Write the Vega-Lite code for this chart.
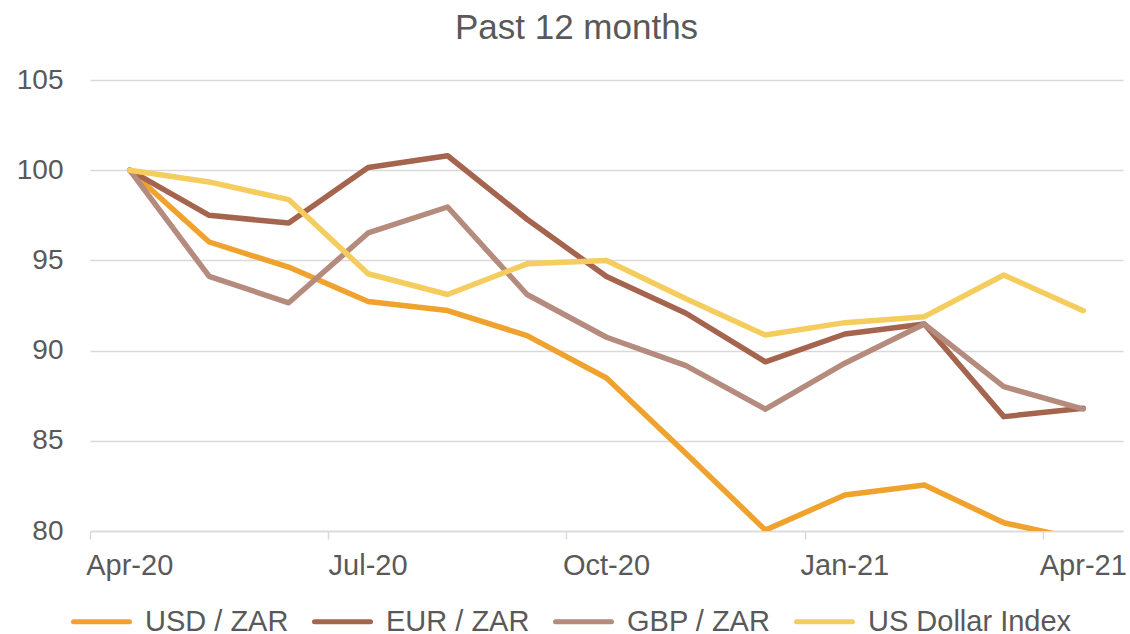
{
  "$schema": "https://vega.github.io/schema/vega-lite/v6.json",
  "width": 1033,
  "height": 451,
  "autosize": "none",
  "padding": {"left": 90, "top": 80, "right": 7, "bottom": 103},
  "background": "white",
  "config": {"view": {"stroke": null}, "font": "Liberation Sans"},
  "title": {
    "text": "Past 12 months",
    "fontSize": 35,
    "font": "Liberation Sans",
    "fontWeight": "normal",
    "color": "#595959",
    "anchor": "middle",
    "frame": "group",
    "dx": -30,
    "offset": 20
  },
  "data": {
    "values": [
      {"month": "Apr-20", "series": "USD / ZAR", "value": 100},
      {"month": "May-20", "series": "USD / ZAR", "value": 96.02},
      {"month": "Jun-20", "series": "USD / ZAR", "value": 94.63},
      {"month": "Jul-20", "series": "USD / ZAR", "value": 92.72},
      {"month": "Aug-20", "series": "USD / ZAR", "value": 92.22},
      {"month": "Sep-20", "series": "USD / ZAR", "value": 90.83},
      {"month": "Oct-20", "series": "USD / ZAR", "value": 88.48},
      {"month": "Nov-20", "series": "USD / ZAR", "value": 84.3},
      {"month": "Dec-20", "series": "USD / ZAR", "value": 80.05},
      {"month": "Jan-21", "series": "USD / ZAR", "value": 82.0},
      {"month": "Feb-21", "series": "USD / ZAR", "value": 82.55},
      {"month": "Mar-21", "series": "USD / ZAR", "value": 80.46},
      {"month": "Apr-21", "series": "USD / ZAR", "value": 79.49},
      {"month": "Apr-20", "series": "EUR / ZAR", "value": 100},
      {"month": "May-20", "series": "EUR / ZAR", "value": 97.5},
      {"month": "Jun-20", "series": "EUR / ZAR", "value": 97.07},
      {"month": "Jul-20", "series": "EUR / ZAR", "value": 100.15},
      {"month": "Aug-20", "series": "EUR / ZAR", "value": 100.8},
      {"month": "Sep-20", "series": "EUR / ZAR", "value": 97.28},
      {"month": "Oct-20", "series": "EUR / ZAR", "value": 94.11},
      {"month": "Nov-20", "series": "EUR / ZAR", "value": 92.07},
      {"month": "Dec-20", "series": "EUR / ZAR", "value": 89.38},
      {"month": "Jan-21", "series": "EUR / ZAR", "value": 90.92},
      {"month": "Feb-21", "series": "EUR / ZAR", "value": 91.47},
      {"month": "Mar-21", "series": "EUR / ZAR", "value": 86.34},
      {"month": "Apr-21", "series": "EUR / ZAR", "value": 86.8},
      {"month": "Apr-20", "series": "GBP / ZAR", "value": 100},
      {"month": "May-20", "series": "GBP / ZAR", "value": 94.11},
      {"month": "Jun-20", "series": "GBP / ZAR", "value": 92.65},
      {"month": "Jul-20", "series": "GBP / ZAR", "value": 96.52},
      {"month": "Aug-20", "series": "GBP / ZAR", "value": 97.96},
      {"month": "Sep-20", "series": "GBP / ZAR", "value": 93.11},
      {"month": "Oct-20", "series": "GBP / ZAR", "value": 90.74},
      {"month": "Nov-20", "series": "GBP / ZAR", "value": 89.17},
      {"month": "Dec-20", "series": "GBP / ZAR", "value": 86.75},
      {"month": "Jan-21", "series": "GBP / ZAR", "value": 89.3},
      {"month": "Feb-21", "series": "GBP / ZAR", "value": 91.47},
      {"month": "Mar-21", "series": "GBP / ZAR", "value": 88.0},
      {"month": "Apr-21", "series": "GBP / ZAR", "value": 86.76},
      {"month": "Apr-20", "series": "US Dollar Index", "value": 100},
      {"month": "May-20", "series": "US Dollar Index", "value": 99.35},
      {"month": "Jun-20", "series": "US Dollar Index", "value": 98.37},
      {"month": "Jul-20", "series": "US Dollar Index", "value": 94.26},
      {"month": "Aug-20", "series": "US Dollar Index", "value": 93.11},
      {"month": "Sep-20", "series": "US Dollar Index", "value": 94.81},
      {"month": "Oct-20", "series": "US Dollar Index", "value": 95.0},
      {"month": "Nov-20", "series": "US Dollar Index", "value": 92.87},
      {"month": "Dec-20", "series": "US Dollar Index", "value": 90.86},
      {"month": "Jan-21", "series": "US Dollar Index", "value": 91.55},
      {"month": "Feb-21", "series": "US Dollar Index", "value": 91.88},
      {"month": "Mar-21", "series": "US Dollar Index", "value": 94.19},
      {"month": "Apr-21", "series": "US Dollar Index", "value": 92.21}
    ]
  },
  "mark": {"type": "line", "strokeWidth": 5.5, "strokeCap": "round", "strokeJoin": "round", "clip": true},
  "encoding": {
    "x": {
      "field": "month",
      "type": "ordinal",
      "bandPosition": 0.5,
      "scale": {
        "type": "band",
        "domain": ["Apr-20", "May-20", "Jun-20", "Jul-20", "Aug-20", "Sep-20", "Oct-20", "Nov-20", "Dec-20", "Jan-21", "Feb-21", "Mar-21", "Apr-21"],
        "paddingInner": 0,
        "paddingOuter": 0
      },
      "axis": {
        "title": null,
        "values": ["Apr-20", "Jul-20", "Oct-20", "Jan-21", "Apr-21"],
        "bandPosition": 0,
        "labelAngle": 0,
        "labelFontSize": 29,
        "labelColor": "#595959",
        "labelPadding": 12,
        "tickSize": 8,
        "tickColor": "#d9d9d9",
        "tickWidth": 1.5,
        "domainColor": "#d9d9d9",
        "domainWidth": 1.5,
        "grid": false
      }
    },
    "y": {
      "field": "value",
      "type": "quantitative",
      "scale": {"domain": [80, 105], "nice": false, "zero": false},
      "axis": {
        "title": null,
        "values": [80, 85, 90, 95, 100, 105],
        "domain": false,
        "ticks": false,
        "labelFontSize": 28,
        "labelColor": "#595959",
        "labelPadding": 27,
        "gridColor": "#d9d9d9",
        "gridWidth": 1.5
      }
    },
    "color": {
      "field": "series",
      "type": "nominal",
      "scale": {
        "domain": ["USD / ZAR", "EUR / ZAR", "GBP / ZAR", "US Dollar Index"],
        "range": ["#F0A22E", "#A5644E", "#B58B7E", "#F5CD5E"]
      },
      "legend": {
        "title": null,
        "orient": "none",
        "legendX": -19,
        "legendY": 511,
        "direction": "horizontal",
        "symbolType": "stroke",
        "symbolSize": 3136,
        "symbolStrokeWidth": 5,
        "labelFontSize": 29,
        "labelColor": "#595959",
        "labelOffset": 13,
        "columnPadding": 15,
        "labelLimit": 400,
        "encode": {"symbols": {"update": {"strokeCap": {"value": "round"}}}}
      }
    }
  }
}
